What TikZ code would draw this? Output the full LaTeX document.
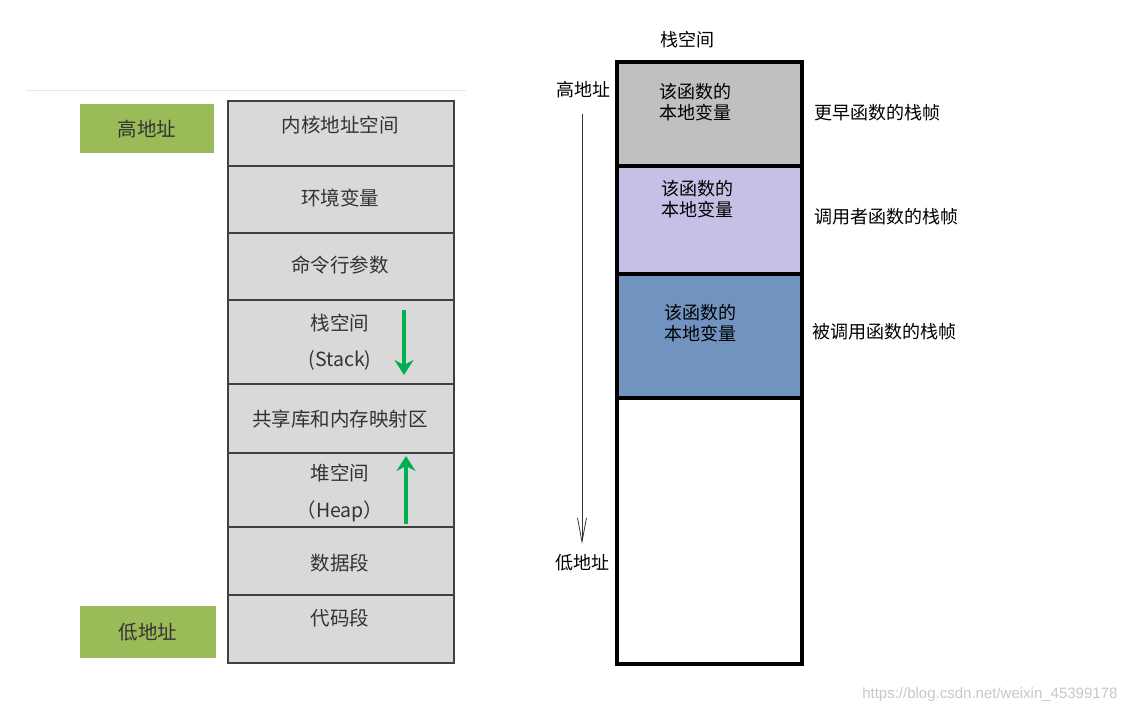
\documentclass[tikz,border=0pt]{standalone}
\usepackage{fontspec}
\newfontfamily\cjk{Noto Sans CJK SC}
\usetikzlibrary{arrows.meta,positioning}

\definecolor{addrgreen}{HTML}{9BBB59}
\definecolor{seggray}{HTML}{D9D9D9}
\definecolor{segline}{HTML}{404040}
\definecolor{growgreen}{HTML}{00B050}
\definecolor{oldgray}{HTML}{C0C0C0}
\definecolor{callerlilac}{HTML}{C8BFE6}
\definecolor{calleeblue}{HTML}{7093BF}
\definecolor{darktext}{HTML}{333333}

\begin{document}
\begin{tikzpicture}[x=1pt,y=-1pt]

	\tikzstyle{seg}=[draw=segline, fill=seggray, line width=1.8pt, minimum width=226pt, inner sep=0pt, anchor=north west]
	\tikzstyle{addr}=[fill=addrgreen, minimum width=134pt, minimum height=49pt, font=\cjk\fontsize{19.5}{22}\selectfont, text=darktext]
	\tikzstyle{segtxt}=[font=\cjk\fontsize{19.5}{22}\selectfont, text=darktext]
	\tikzstyle{growarrow}=[-{Stealth[length=15pt, width=19pt, inset=5pt]}, growgreen, line width=3.4pt]
	\tikzstyle{stackframe}=[draw=black, line width=3.6pt, minimum width=185pt, inner sep=0pt, anchor=north west]
	\tikzstyle{frametxt}=[font=\cjk\fontsize{18}{21.5}\selectfont, align=center]
	\tikzstyle{sidelabel}=[font=\cjk\fontsize{18}{21}\selectfont, anchor=west]

	\useasboundingbox (0,0) rectangle (1130,714);

	\draw[black!9, line width=1pt] (26,91) -- (466,91);

	% ESPACIO DE DIRECCIONES
	\node[addr] (hi_addr) at (147,129) {高地址};
	\node[addr, minimum width=136pt, minimum height=52pt] (lo_addr) at (148,632) {低地址};

	\node[seg, minimum height=65pt] (kernel) at (227,100) {};
	\node[seg, minimum height=67pt] (env) at (227,165) {};
	\node[seg, minimum height=67pt] (args) at (227,232) {};
	\node[seg, minimum height=84pt] (stack) at (227,299) {};
	\node[seg, minimum height=69pt] (mmap) at (227,383) {};
	\node[seg, minimum height=74pt] (heap) at (227,452) {};
	\node[seg, minimum height=68pt] (data) at (227,526) {};
	\node[seg, minimum height=68pt] (text) at (227,594) {};

	\node[segtxt] (kernel_t) at (340,125) {内核地址空间};
	\node[segtxt] (env_t) at (340,198) {环境变量};
	\node[segtxt] (args_t) at (340,265) {命令行参数};
	\node[segtxt] (stack_t) at (340,323) {栈空间};
	\node[segtxt] (stack_e) at (340,360) {(Stack)};
	\node[segtxt] (mmap_t) at (340,419) {共享库和内存映射区};
	\node[segtxt] (heap_t) at (340,473) {堆空间};
	\node[segtxt] (heap_e) at (340,511) {（Heap）};
	\node[segtxt] (data_t) at (340,563) {数据段};
	\node[segtxt] (text_t) at (340,618) {代码段};

	\coordinate (down_a) at (404,310);
	\coordinate (down_b) at (404,375);
	\coordinate (up_a) at (406,524);
	\coordinate (up_b) at (406,456);
	\draw[growarrow] (down_a) -- (down_b);
	\draw[growarrow] (up_a) -- (up_b);

	% PILA
	\node[font=\cjk\fontsize{18}{21}\selectfont] (stack_title) at (687,40) {栈空间};

	\node[stackframe, fill=oldgray, minimum height=104pt] (older) at (615,60) {};
	\node[stackframe, fill=callerlilac, minimum height=108pt] (caller) at (615,164) {};
	\node[stackframe, fill=calleeblue, minimum height=124pt] (callee) at (615,272) {};
	\node[stackframe, fill=white, minimum height=266pt] (free) at (615,396) {};

	\node[frametxt] (older_t) at (695,102) {该函数的\\本地变量};
	\node[frametxt] (caller_t) at (697,199) {该函数的\\本地变量};
	\node[frametxt] (callee_t) at (700,323) {该函数的\\本地变量};

	\node[sidelabel] (older_l) at (811,113) {更早函数的栈帧};
	\node[sidelabel] (caller_l) at (811,217) {调用者函数的栈帧};
	\node[sidelabel] (callee_l) at (809,332) {被调用函数的栈帧};

	\node[font=\cjk\fontsize{18}{21}\selectfont] (hi_mark) at (583,90) {高地址};
	\node[font=\cjk\fontsize{18}{21}\selectfont] (lo_mark) at (582,563) {低地址};
	\coordinate (dir_a) at (582,114);
	\coordinate (dir_b) at (582,544);
	\draw[-{Straight Barb[length=24pt, width=9pt]}, line width=0.8pt, black!80] (dir_a) -- (dir_b);

	\node[font=\fontspec{Liberation Sans}\fontsize{15}{18}\selectfont, text=black!22, anchor=east] (mark) at (1121,695) {https://blog.csdn.net/weixin\_45399178};

\end{tikzpicture}
\end{document}
